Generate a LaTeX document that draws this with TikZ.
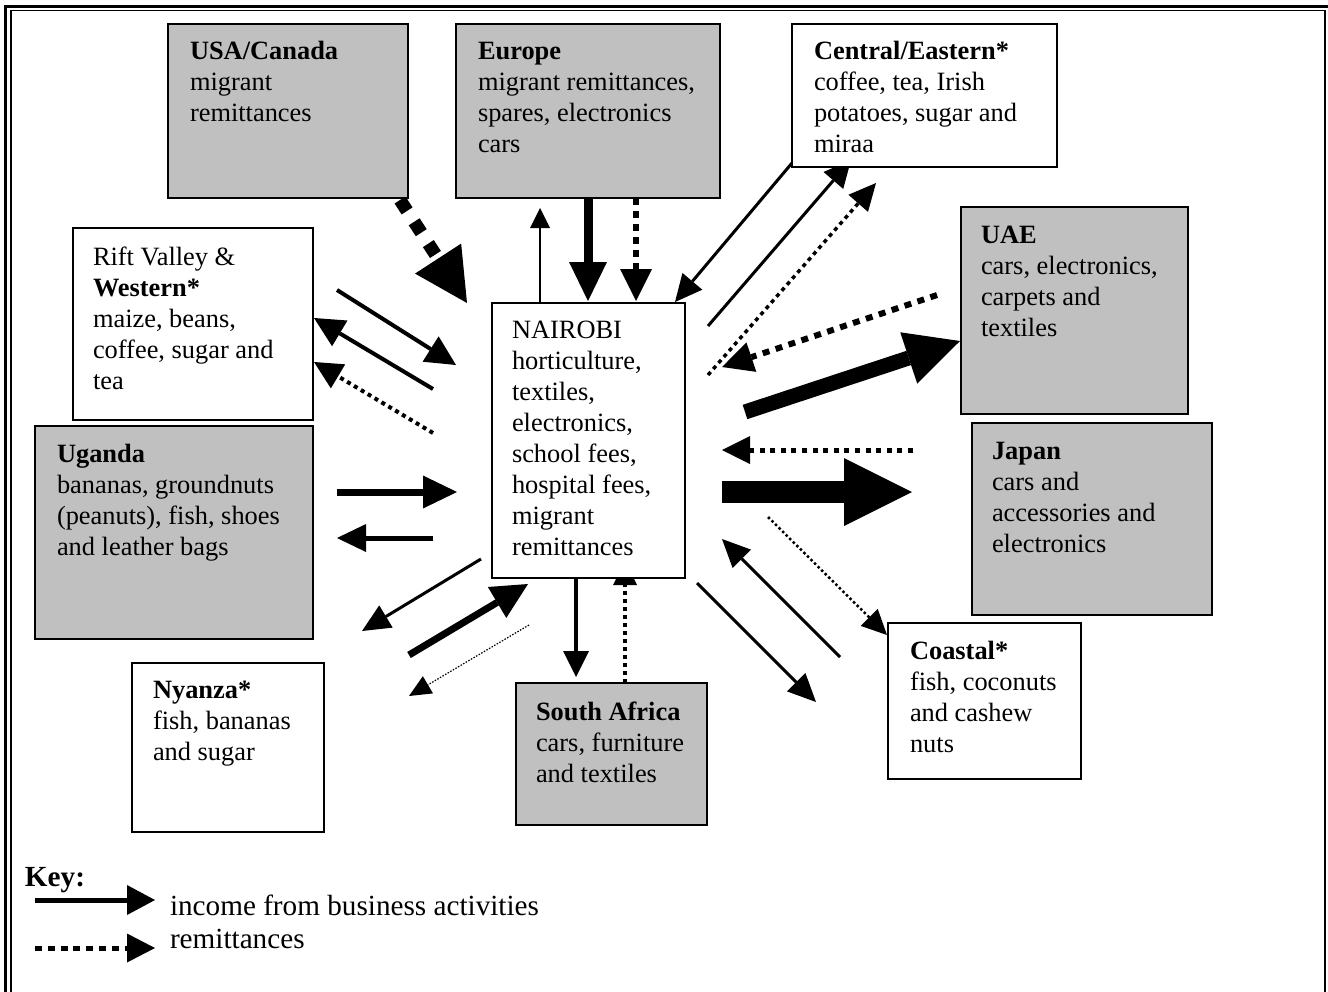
\documentclass[tikz,border=0pt]{standalone}
\usepackage{fontspec}
\setmainfont{Liberation Serif}
\usetikzlibrary{arrows.meta}
\definecolor{boxgray}{HTML}{C0C0C0}
\tikzset{
  box/.style={draw=black, line width=0.75pt, anchor=north west, inner sep=0pt, outer sep=0pt},
  gbox/.style={box, fill=boxgray},
  wbox/.style={box, fill=white},
  txt/.style={anchor=north west, inner sep=0pt, outer sep=0pt, align=left, font=\fontsize{13.2}{15.5}\selectfont},
  keytxt/.style={anchor=base west, inner sep=0pt, outer sep=0pt, font=\fontsize{14.6}{17}\selectfont},
  hd/.style 2 args={-{Triangle[length=#1pt,width=#2pt,line width=0pt]}},
  flow/.style={draw=black, line cap=butt},
}
\begin{document}
\begin{tikzpicture}[x=0.5pt,y=-0.5pt]
\useasboundingbox (0,0) rectangle (1328,991);
% double frame
\draw[line width=1.5pt] (5.8,6) rectangle (1331,1010);
\draw[line width=0.65pt] (11,10.7) rectangle (1325,1004);

% ---- arrow end points ----
\coordinate (a1s) at (400,200);  \coordinate (a1e) at (467,303);
\coordinate (a2s) at (337,290);  \coordinate (a2e) at (456,365);
\coordinate (a3s) at (433,389);  \coordinate (a3e) at (314,318);
\coordinate (a4s) at (433,433);  \coordinate (a4e) at (314,362);
\coordinate (a5s) at (337,492);  \coordinate (a5e) at (457,492);
\coordinate (a6s) at (433,538);  \coordinate (a6e) at (337,538);
\coordinate (a7s) at (481,559);  \coordinate (a7e) at (362,631);
\coordinate (a8s) at (409,655);  \coordinate (a8e) at (528,584);
\coordinate (a9s) at (529,625);  \coordinate (a9e) at (409,696);
\coordinate (a10s) at (540,303); \coordinate (a10e) at (540,208);
\coordinate (a11s) at (588,198); \coordinate (a11e) at (588,301);
\coordinate (a12s) at (636,198); \coordinate (a12e) at (636,301);
\coordinate (a13s) at (792,163); \coordinate (a13e) at (675,302);
\coordinate (a14s) at (708,326); \coordinate (a14e) at (851,160);
\coordinate (a15s) at (708,375); \coordinate (a15e) at (876,183);
\coordinate (a16s) at (937,295); \coordinate (a16e) at (722,367);
\coordinate (a17s) at (745,412); \coordinate (a17e) at (960,341);
\coordinate (a18s) at (913,450); \coordinate (a18e) at (722,450);
\coordinate (a19s) at (722,492); \coordinate (a19e) at (912,492);
\coordinate (a20s) at (768,517); \coordinate (a20e) at (887,635);
\coordinate (a21s) at (840,657); \coordinate (a21e) at (722,539);
\coordinate (a22s) at (697,583); \coordinate (a22e) at (816,702);
\coordinate (a23s) at (576,578); \coordinate (a23e) at (576,677);
\coordinate (a24s) at (625,683); \coordinate (a24e) at (625,561);

% ---- arrows ----
\draw[flow, line width=6.5pt, dash pattern=on 6.5pt off 6.5pt, hd={26.5}{27.5}] (a1s) -- (a1e);
\draw[flow, line width=2pt, hd={15}{15}] (a2s) -- (a2e);
\draw[flow, line width=2pt, hd={15}{15}] (a3s) -- (a3e);
\draw[flow, line width=2pt, dash pattern=on 2pt off 2pt, hd={14}{14}] (a4s) -- (a4e);
\draw[flow, line width=3.5pt, hd={17}{16.5}] (a5s) -- (a5e);
\draw[flow, line width=2.5pt, hd={14.5}{14}] (a6s) -- (a6e);
\draw[flow, line width=1.5pt, hd={14}{13}] (a7s) -- (a7e);
\draw[flow, line width=3.5pt, hd={18}{18}] (a8s) -- (a8e);
\draw[flow, line width=0.6pt, dash pattern=on 0.75pt off 0.75pt, hd={11}{10}] (a9s) -- (a9e);
\draw[flow, line width=0.75pt, hd={10}{10}] (a10s) -- (a10e);
\draw[flow, line width=4.5pt, hd={19.5}{19}] (a11s) -- (a11e);
\draw[flow, line width=3pt, dash pattern=on 3.5pt off 3pt, hd={16}{16}] (a12s) -- (a12e);
\draw[flow, line width=1.5pt, hd={13.5}{13}] (a13s) -- (a13e);
\draw[flow, line width=1.5pt, hd={13.5}{13}] (a14s) -- (a14e);
\draw[flow, line width=1.75pt, dash pattern=on 2pt off 2pt, hd={13.5}{13}] (a15s) -- (a15e);
\draw[flow, line width=3pt, dash pattern=on 3.5pt off 3.3pt, hd={15.5}{15.5}] (a16s) -- (a16e);
\draw[flow, line width=7.5pt, hd={27}{27}] (a17s) -- (a17e);
\draw[flow, line width=2.5pt, dash pattern=on 2.5pt off 2.8pt, hd={14}{14}] (a18s) -- (a18e);
\draw[flow, line width=11pt, hd={34}{34}] (a19s) -- (a19e);
\draw[flow, line width=1.25pt, dash pattern=on 1.25pt off 1.25pt, hd={12.5}{12}] (a20s) -- (a20e);
\draw[flow, line width=1.5pt, hd={14}{13}] (a21s) -- (a21e);
\draw[flow, line width=1.5pt, hd={14}{13}] (a22s) -- (a22e);
\draw[flow, line width=2pt, hd={13}{13}] (a23s) -- (a23e);
\draw[flow, line width=2pt, dash pattern=on 2pt off 2pt, hd={12}{12}] (a24s) -- (a24e);

% ---- boxes ----
\node[gbox, minimum width=120pt, minimum height=87pt] (usa) at (168,24) {};
\node[gbox, minimum width=132pt, minimum height=87pt] (eu) at (456,24) {};
\node[wbox, minimum width=132.5pt, minimum height=71.5pt] (cen) at (792,24) {};
\node[wbox, minimum width=120pt, minimum height=96pt] (rift) at (73,228) {};
\node[gbox, minimum width=139pt, minimum height=106.5pt] (uga) at (35,426) {};
\node[wbox, minimum width=96pt, minimum height=84.5pt] (nya) at (132,663) {};
\node[gbox, minimum width=113.5pt, minimum height=103.5pt] (uae) at (961,207) {};
\node[gbox, minimum width=120pt, minimum height=96pt] (jap) at (972,423) {};
\node[wbox, minimum width=96.5pt, minimum height=78pt] (coa) at (888,623) {};
\node[gbox, minimum width=95.5pt, minimum height=71pt] (sa) at (516,683) {};
\node[wbox, minimum width=96.5pt, minimum height=137.5pt] (nai) at (492,303) {};

% ---- texts ----
\node[txt] (usaT) at (190,37.3) {\strut\textbf{USA/Canada}\\migrant\\remittances};
\node[txt] (euT) at (478,37.3) {\strut\textbf{Europe}\\migrant remittances,\\spares, electronics\\cars};
\node[txt] (cenT) at (814,37.3) {\strut\textbf{Central/Eastern*}\\coffee, tea, Irish\\potatoes, sugar and\\miraa};
\node[txt] (riftT) at (93,243.3) {\strut Rift Valley \&\\\textbf{Western*}\\maize, beans,\\coffee, sugar and\\tea};
\node[txt] (ugaT) at (57,440.3) {\strut\textbf{Uganda}\\bananas, groundnuts\\(peanuts), fish, shoes\\and leather bags};
\node[txt] (nyaT) at (153,676.3) {\strut\textbf{Nyanza*}\\fish, bananas\\and sugar};
\node[txt] (uaeT) at (981,221.3) {\strut\textbf{UAE}\\cars, electronics,\\carpets and\\textiles};
\node[txt] (japT) at (992,437.3) {\strut\textbf{Japan}\\cars and\\accessories and\\electronics};
\node[txt] (coaT) at (910,637.3) {\strut\textbf{Coastal*}\\fish, coconuts\\and cashew\\nuts};
\node[txt] (saT) at (536,698.3) {\strut\textbf{South Africa}\\cars, furniture\\and textiles};
\node[txt] (naiT) at (512,316.3) {\strut NAIROBI\\horticulture,\\textiles,\\electronics,\\school fees,\\hospital fees,\\migrant\\remittances};

% ---- key ----
\node[keytxt] (keyT) at (25,886) {\textbf{Key:}};
\coordinate (k1s) at (35,900); \coordinate (k1e) at (155,900);
\coordinate (k2s) at (35,948); \coordinate (k2e) at (155,948);
\draw[flow, line width=2.5pt, hd={14}{15}] (k1s) -- (k1e);
\draw[flow, line width=2.5pt, dash pattern=on 3.5pt off 2.9pt, hd={14}{14.5}] (k2s) -- (k2e);
\node[keytxt] (k1T) at (170,915) {income from business activities};
\node[keytxt] (k2T) at (170,948) {remittances};
\end{tikzpicture}
\end{document}
